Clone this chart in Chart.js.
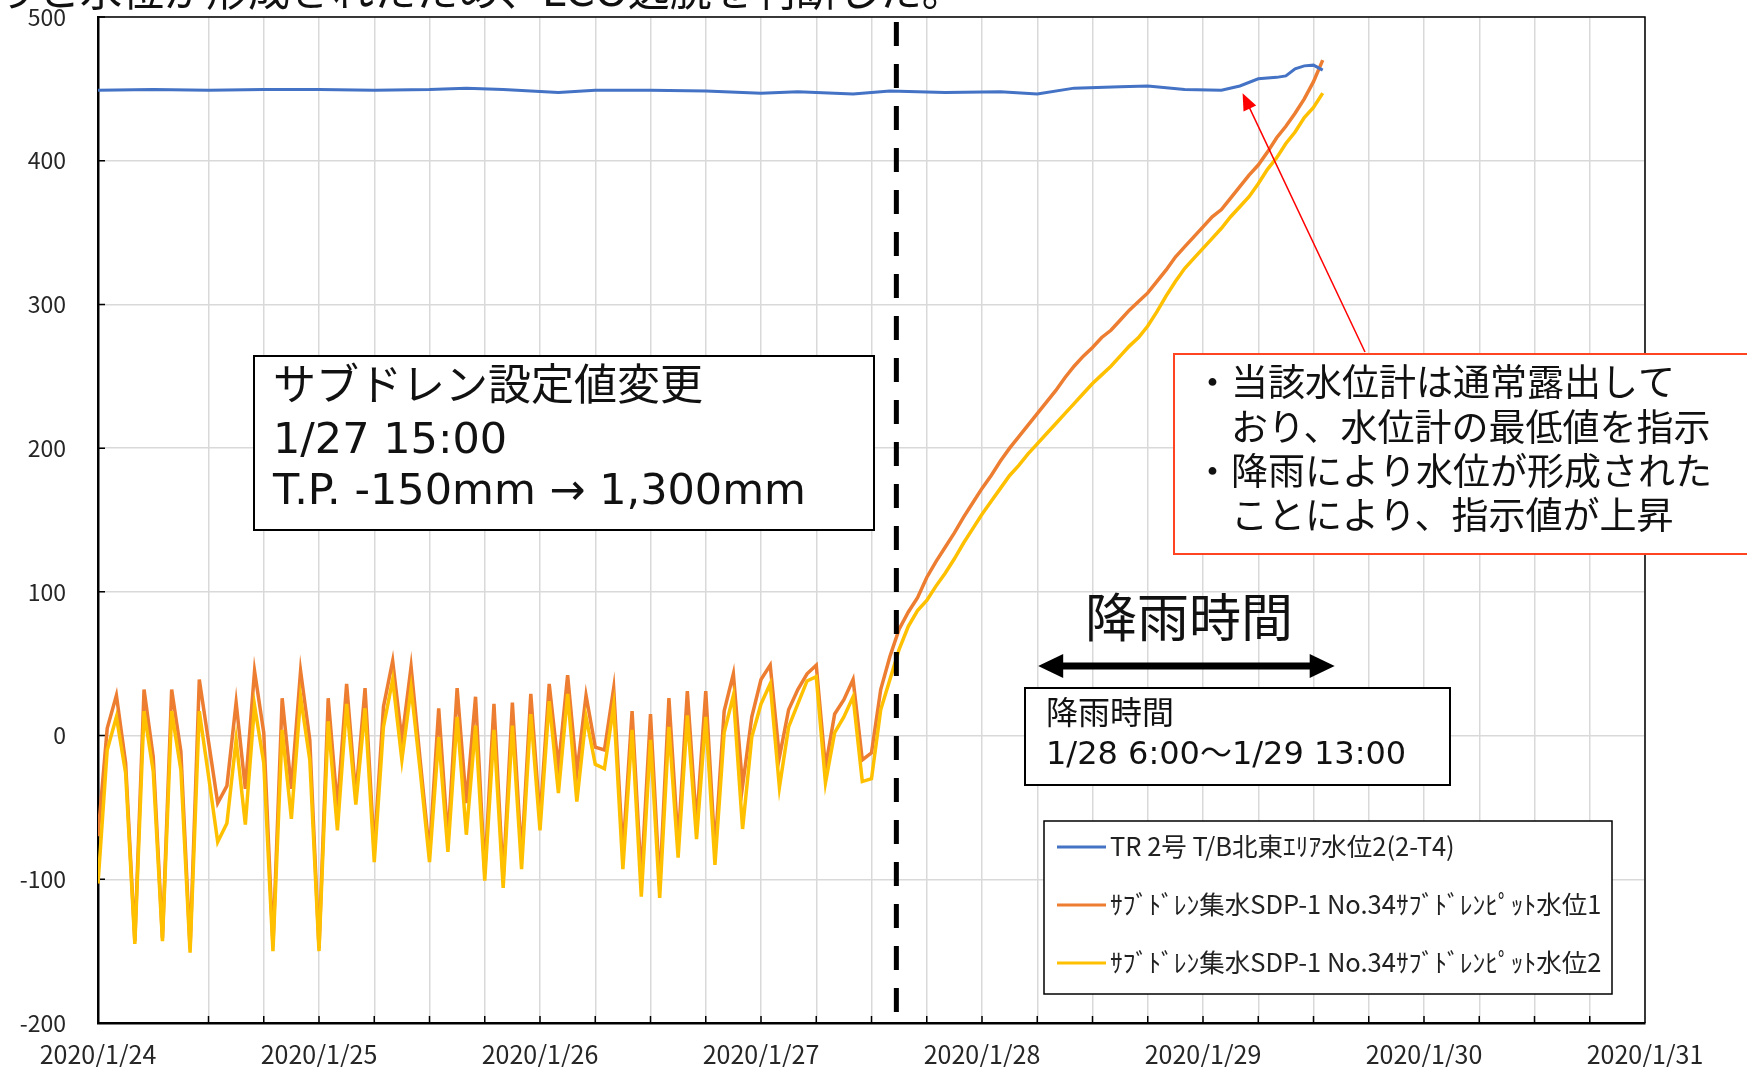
<!DOCTYPE html>
<html lang="ja">
<head>
<meta charset="utf-8">
<title>サブドレン水位</title>
<script src="https://cdn.jsdelivr.net/npm/chart.js@4.4.1/dist/chart.umd.min.js"></script>
<style>
  html, body { margin: 0; padding: 0; background: #fff; overflow: hidden; }
  #wrap { position: relative; width: 1747px; height: 1067px; }
</style>
</head>
<body>
<div id="wrap"><canvas id="levelChart" width="1747" height="1067"></canvas></div>
<script>
// x axis is hours from 2020/1/24 0:00
var dayLabels = ['2020/1/24', '2020/1/25', '2020/1/26', '2020/1/27', '2020/1/28', '2020/1/29', '2020/1/30', '2020/1/31'];

var seriesNames = [
  'TR 2号 T/B北東ｴﾘｱ水位2(2-T4)',
  'ｻﾌﾞﾄﾞﾚﾝ集水SDP-1 No.34ｻﾌﾞﾄﾞﾚﾝﾋﾟｯﾄ水位1',
  'ｻﾌﾞﾄﾞﾚﾝ集水SDP-1 No.34ｻﾌﾞﾄﾞﾚﾝﾋﾟｯﾄ水位2'
];

// T/B water level (read every few hours)
var blueHours = [0, 6, 12, 18, 24, 30, 36, 40, 44, 50, 54, 60, 66, 72, 76, 82, 86, 92, 98, 102, 106, 111, 114, 118, 122, 124, 126, 128, 129, 130, 131, 132, 133];
var blueLevel = [449, 449.5, 449, 449.5, 449.5, 449, 449.5, 450.5, 449.5, 447.5, 449, 449, 448.5, 447, 448, 446.5, 448.5, 447.5, 448, 446.5, 450.5, 451.5, 452, 449.5, 449, 452, 457, 458, 459, 464, 466, 466.5, 463];

// sub-drain pit levels, hourly readings from 1/24 0:00 to 1/29 13:00
var pitLevel1 = [
  -70, 5, 28, -19, -143, 32, -15, -141, 32, -11,
  -148, 39, -4, -47, -35, 23, -37, 45, 2, -146,
  26, -37, 45, -3, -148, 26, -50, 36, -42, 33,
  -80, 20, 52, -3, 48, -18, -82, 19, -73, 33,
  -47, 27, -95, 22, -100, 23, -85, 29, -58, 36,
  -22, 42, -26, 28, -8, -10, 33, -82, 17, -100,
  15, -105, 26, -75, 31, -62, 31, -80, 17, 43,
  -35, 13, 39, 49, -15, 18, 32, 43, 49, -22,
  15, 25, 39, -17, -12, 32, 55, 74, 86, 96,
  110, 121, 131, 141, 152, 162, 172, 181, 191, 200,
  208, 216, 224, 232, 240, 249, 257, 264, 270, 277,
  282, 289, 296, 302, 308, 316, 324, 333, 340, 347,
  354, 361, 366, 374, 382, 390, 397, 406, 416, 424,
  433, 443, 455, 470
];
var pitLevel2 = [
  -103, -10, 13, -26, -145, 17, -25, -143, 17, -24,
  -151, 17, -28, -74, -61, -3, -62, 21, -19, -150,
  4, -58, 27, -17, -150, 10, -66, 22, -48, 19,
  -88, 6, 39, -17, 33, -25, -88, -1, -81, 13,
  -69, 7, -101, 4, -106, 7, -93, 15, -66, 24,
  -40, 29, -46, 13, -20, -23, 21, -93, 4, -112,
  -3, -113, 6, -85, 14, -72, 13, -90, 2, 28,
  -65, -1, 22, 36, -36, 6, 22, 38, 41, -33,
  2, 13, 27, -32, -30, 18, 39, 60, 76, 87,
  94, 104, 113, 123, 134, 144, 154, 163, 172, 181,
  188, 196, 203, 210, 217, 224, 231, 238, 245, 251,
  257, 264, 271, 277, 285, 295, 306, 316, 325, 332,
  339, 346, 353, 361, 368, 375, 384, 394, 402, 412,
  420, 430, 437, 447
];

var changeHour = 86.7;          // 1/27 15:00 setting change
var rainArrow = [102.1, 134.3]; // 1/28 6:00 - 1/29 13:00

var jpFont = '"DejaVu Sans", "Noto Sans CJK JP", sans-serif';

function toPoints(hours, values) {
  return values.map(function(v, i) { return { x: hours[i], y: v }; });
}
var pitHours = pitLevel1.map(function(v, i) { return i; });

function arrowHead(ctx, x, y, angle, len, half) {
  ctx.save();
  ctx.translate(x, y);
  ctx.rotate(angle);
  ctx.beginPath();
  ctx.moveTo(0, 0);
  ctx.lineTo(-len, -half);
  ctx.lineTo(-len, half);
  ctx.closePath();
  ctx.fill();
  ctx.restore();
}

function textBox(ctx, x, y, w, h, stroke, lw) {
  ctx.fillStyle = '#fff';
  ctx.fillRect(x, y, w, h);
  ctx.strokeStyle = stroke;
  ctx.lineWidth = lw;
  ctx.strokeRect(x, y, w, h);
}

var framePlugin = {
  id: 'frame',
  beforeDatasetsDraw: function(chart) {
    var ctx = chart.ctx, a = chart.chartArea, xs = chart.scales.x, ys = chart.scales.y;
    ctx.save();
    ctx.strokeStyle = '#000';
    ctx.lineWidth = 1.5;
    ctx.beginPath();
    ctx.moveTo(a.left, a.top);
    ctx.lineTo(a.right, a.top);
    ctx.lineTo(a.right, a.bottom);
    ctx.stroke();
    // inner tick marks
    ctx.beginPath();
    xs.ticks.forEach(function(t) {
      if (t.value === 0 || t.value === 6 || t.value === 168) return;
      var px = xs.getPixelForValue(t.value);
      ctx.moveTo(px, a.bottom);
      ctx.lineTo(px, a.bottom - 7);
    });
    ys.ticks.forEach(function(t) {
      if (t.value === -200) return;
      var py = ys.getPixelForValue(t.value);
      ctx.moveTo(a.left, py);
      ctx.lineTo(a.left + 7, py);
    });
    ctx.stroke();
    ctx.restore();
  },
  afterDatasetsDraw: function(chart) {
    var ctx = chart.ctx, a = chart.chartArea, xs = chart.scales.x, ys = chart.scales.y;
    ctx.save();

    // setting change line
    var cx = xs.getPixelForValue(changeHour);
    ctx.strokeStyle = '#000';
    ctx.lineWidth = 5;
    ctx.setLineDash([24, 18]);
    ctx.beginPath();
    ctx.moveTo(cx, a.top + 5);
    ctx.lineTo(cx, a.bottom - 11);
    ctx.stroke();
    ctx.setLineDash([]);

    // setting change box
    textBox(ctx, 254, 356, 620, 174, '#000', 2);
    ctx.fillStyle = '#111';
    ctx.textBaseline = 'middle';
    ctx.textAlign = 'left';
    ctx.font = '43px ' + jpFont;
    ctx.fillText('サブドレン設定値変更', 273, 389);
    ctx.fillText('1/27 15:00', 273, 442);
    ctx.fillText('T.P. -150mm → 1,300mm', 273, 493);

    // rain period
    ctx.font = '52px ' + jpFont;
    ctx.textAlign = 'center';
    ctx.fillText('降雨時間', 1189, 623);
    var ax1 = xs.getPixelForValue(rainArrow[0]), ax2 = xs.getPixelForValue(rainArrow[1]);
    ctx.strokeStyle = '#000';
    ctx.fillStyle = '#000';
    ctx.lineWidth = 7;
    ctx.beginPath();
    ctx.moveTo(ax1 + 20, 666);
    ctx.lineTo(ax2 - 20, 666);
    ctx.stroke();
    arrowHead(ctx, ax1, 666, Math.PI, 25, 12);
    arrowHead(ctx, ax2, 666, 0, 25, 12);

    textBox(ctx, 1025, 688, 425, 97, '#000', 2);
    ctx.fillStyle = '#111';
    ctx.textAlign = 'left';
    ctx.font = '32px ' + jpFont;
    ctx.fillText('降雨時間', 1046, 716);
    ctx.fillText('1/28 6:00～1/29 13:00', 1046, 756);

    // red note and arrow
    var tipX = xs.getPixelForValue(124.3), tipY = ys.getPixelForValue(447);
    ctx.strokeStyle = '#ff0000';
    ctx.fillStyle = '#ff0000';
    ctx.lineWidth = 1.5;
    var ang = Math.atan2(tipY - 352, tipX - 1365);
    ctx.beginPath();
    ctx.moveTo(1365, 352);
    ctx.lineTo(tipX - 14 * Math.cos(ang), tipY - 14 * Math.sin(ang));
    ctx.stroke();
    arrowHead(ctx, tipX, tipY, ang, 17, 7);

    textBox(ctx, 1174, 354, 660, 200, '#ff4422', 2);
    ctx.fillStyle = '#111';
    ctx.font = '37px ' + jpFont;
    ctx.fillText('・当該水位計は通常露出して', 1194, 386);
    ctx.fillText('おり、水位計の最低値を指示', 1231, 431);
    ctx.fillText('・降雨により水位が形成された', 1194, 475);
    ctx.fillText('ことにより、指示値が上昇', 1231, 519);

    // legend
    textBox(ctx, 1044, 821, 568, 173, '#000', 1.5);
    ctx.font = '25.5px "Noto Sans CJK JP", sans-serif';
    chart.data.datasets.forEach(function(ds, i) {
      var ly = 847 + i * 58;
      ctx.strokeStyle = ds.borderColor;
      ctx.lineWidth = 3;
      ctx.beginPath();
      ctx.moveTo(1057, ly);
      ctx.lineTo(1106, ly);
      ctx.stroke();
      ctx.fillStyle = '#222';
      ctx.fillText(ds.label, 1110, ly - 1);
    });
    ctx.restore();
  },
  afterDraw: function(chart) {
    // slide text cut off above the chart
    var ctx = chart.ctx;
    ctx.save();
    ctx.fillStyle = '#111';
    ctx.font = '42px ' + jpFont;
    ctx.textBaseline = 'alphabetic';
    ctx.textAlign = 'left';
    ctx.fillText('りと水位が形成されたため、LCO逸脱を判断した。', -4, 6);
    ctx.restore();
  }
};

Chart.defaults.font.family = '"Noto Sans CJK JP", "Noto Sans", sans-serif';

var ctx = document.getElementById('levelChart');
new Chart(ctx, {
  type: 'line',
  data: {
    datasets: [
      {
        label: seriesNames[0],
        data: toPoints(blueHours, blueLevel),
        borderColor: '#4472C4',
        borderWidth: 3,
        pointRadius: 0,
        tension: 0,
        order: 0
      },
      {
        label: seriesNames[1],
        data: toPoints(pitHours, pitLevel1),
        borderColor: '#ED7D31',
        borderWidth: 3.5,
        pointRadius: 0,
        tension: 0,
        order: 2
      },
      {
        label: seriesNames[2],
        data: toPoints(pitHours, pitLevel2),
        borderColor: '#FFC000',
        borderWidth: 3.5,
        pointRadius: 0,
        tension: 0,
        order: 1
      }
    ]
  },
  options: {
    responsive: false,
    animation: false,
    devicePixelRatio: 1,
    layout: { padding: { left: 0, right: 102, top: 17, bottom: 0 } },
    plugins: {
      legend: { display: false },
      title: { display: false },
      tooltip: { enabled: false }
    },
    scales: {
      x: {
        type: 'linear',
        min: 0,
        max: 168,
        afterFit: function(scale) { scale.height = 44; },
        ticks: {
          stepSize: 6,
          autoSkip: false,
          maxRotation: 0,
          padding: 16,
          color: '#262626',
          font: { size: 25 },
          callback: function(value) {
            return value % 24 === 0 ? dayLabels[value / 24] : '';
          }
        },
        grid: {
          drawTicks: false,
          lineWidth: 1.5,
          color: function(c) {
            return c.tick && c.tick.value === 6 ? 'rgba(0,0,0,0)' : '#d9d9d9';
          }
        },
        border: { display: true, color: '#000', width: 2.5 }
      },
      y: {
        min: -200,
        max: 500,
        afterFit: function(scale) {
          scale.width = 98;
          scale.paddingTop = 0;
          scale.paddingBottom = 0;
        },
        ticks: {
          stepSize: 100,
          padding: 32,
          color: '#262626',
          font: { size: 23 }
        },
        grid: {
          drawTicks: false,
          lineWidth: 1.5,
          color: '#d9d9d9'
        },
        border: { display: true, color: '#000', width: 2.5 }
      }
    }
  },
  plugins: [framePlugin]
});
</script>
</body>
</html>
